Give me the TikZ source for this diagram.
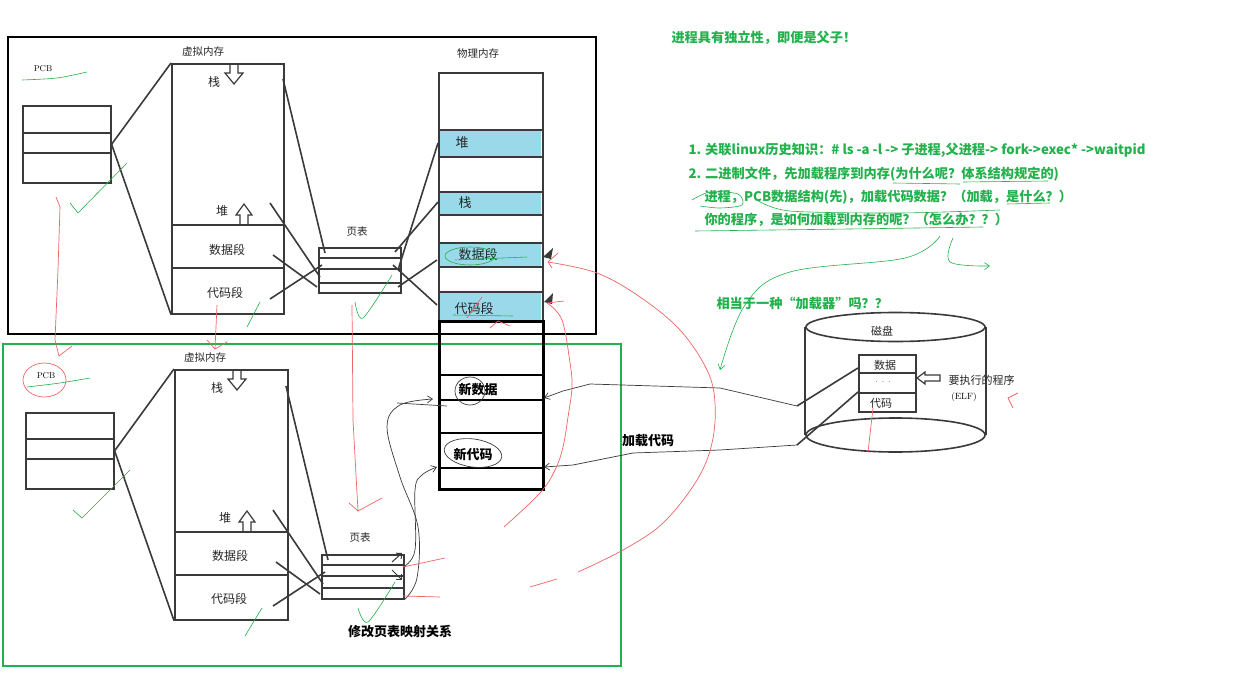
\documentclass[tikz,border=0pt]{standalone}
\usepackage{fontspec}
\usepackage{tikz}
\usetikzlibrary{shapes.geometric,arrows.meta}
\newfontfamily\cjk{Noto Sans CJK SC}
\definecolor{ink}{RGB}{58,58,58}
\definecolor{note}{RGB}{34,177,76}
\definecolor{redink}{RGB}{240,100,100}
\definecolor{cell}{RGB}{153,217,234}

\begin{document}
\begin{tikzpicture}[x=1pt,y=-1pt,
  sketch/.style={draw=ink,line width=1.6pt},
  box/.style={sketch,inner sep=0pt,anchor=north west},
  lbl/.style={font=\cjk\fontsize{12}{14}\selectfont,text=black!85},
  small/.style={font=\cjk\fontsize{10.5}{12}\selectfont,text=black!85},
  tag/.style={font=\rmfamily\fontsize{8.5}{10}\selectfont},
  say/.style={font=\cjk\bfseries\fontsize{13.2}{15}\selectfont,text=note,anchor=west},
  bold/.style={font=\cjk\bfseries\fontsize{13}{15}\selectfont},
  hand/.style={draw=note,line width=0.6pt},
  redhand/.style={draw=redink,line width=0.7pt},
  thin/.style={draw=ink,line width=0.7pt},
  tip/.style={-{Straight Barb[length=5pt,width=7pt]}}]
\useasboundingbox (0,0) rectangle (1242,674);
\fill[white] (0,0) rectangle (1242,674);
\draw[black,line width=2.6pt] (8,37) rectangle (596,334);
\draw[note,line width=2pt] (3,344) rectangle (621,666);
\node[box,minimum width=88pt,minimum height=77pt] (pcbA) at (22,105) {};
\draw[sketch] (22,133) -- (110,133);
\draw[sketch] (22,153) -- (110,153);
\node[tag] (pcbAL) at (43,69) {PCB};
\node[box,minimum width=112pt,minimum height=250pt] (vmA) at (171,63) {};
\draw[sketch] (171,225) -- (283,225);
\draw[sketch] (171,268) -- (283,268);
\node[small] (vmAL) at (203,52) {虚拟内存};
\node[lbl] (stkA) at (214,82) {栈};
\node[lbl] (heapA) at (222,211) {堆};
\node[lbl] (dataA) at (227,250) {数据段};
\node[lbl] (codeA) at (225,293) {代码段};
\draw[sketch,line width=1.2pt,shift={(234,64)}] (-4,0) -- (4,0) -- (4,9) -- (9,9) -- (0,20) -- (-9,9) -- (-4,9) -- cycle;
\draw[sketch,line width=1.2pt,shift={(244,225)}] (-4,0) -- (4,0) -- (4,-10) -- (8,-10) -- (0,-21) -- (-8,-10) -- (-4,-10) -- cycle;
\node[box,minimum width=82pt,minimum height=45pt] (ptA) at (318,247) {};
\draw[sketch] (318,258) -- (400,258);
\draw[sketch] (318,269) -- (400,269);
\draw[sketch] (318,283) -- (400,283);
\node[small] (ptAL) at (357,232) {页表};
\fill[cell] (439,130) rectangle (541,157);
\fill[cell] (439,192) rectangle (541,215);
\fill[cell] (439,243) rectangle (541,267);
\fill[cell] (439,292) rectangle (541,320);
\node[box,minimum width=104pt,minimum height=248pt] (physA) at (438,72) {};
\foreach \y in {130,157,192,215,243,267,292}
  \draw[sketch] (438,\y) -- (542,\y);
\node[small] (physAL) at (478,54) {物理内存};
\node[lbl,font=\cjk\fontsize{13}{15}\selectfont] (heapP) at (462,143) {堆};
\node[lbl,font=\cjk\fontsize{13}{15}\selectfont] (stkP) at (465,203) {栈};
\node[lbl,font=\cjk\fontsize{13}{15}\selectfont] (dataP) at (478,255) {数据段};
\node[lbl,font=\cjk\fontsize{13}{15}\selectfont] (codeP) at (474,309) {代码段};
\node[draw=black,line width=2.6pt,inner sep=0pt,anchor=north west,minimum width=104pt,minimum height=168pt] (physB) at (438,320) {};
\foreach \y in {375,400,433,468}
  \draw[black,line width=2.6pt] (438,\y) -- (542,\y);
\node[bold] (newData) at (478,390) {新数据};
\node[bold] (newCode) at (473,455) {新代码};
\coordinate (vsA1) at (283,79);
\coordinate (vsA2) at (270,203);
\coordinate (vsA3) at (273,255);
\coordinate (vsA4) at (270,299);
\coordinate (psA1) at (325,253);
\coordinate (psA2) at (320,277);
\coordinate (psA3) at (317,287);
\coordinate (psA4) at (322,265);
\coordinate (poA1) at (395,252);
\coordinate (poA2) at (398,270);
\coordinate (poA3) at (393,265);
\coordinate (poA4) at (398,287);
\coordinate (pmStk) at (438,202);
\coordinate (pmHeap) at (438,143);
\coordinate (pmCode) at (437,305);
\coordinate (pmData) at (437,260);
\draw[sketch] (pcbA.east) -- (vmA.north west);
\draw[sketch] (pcbA.east) -- (vmA.south west);
\draw[sketch] (vsA1) -- (psA1);
\draw[sketch] (vsA2) -- (psA2);
\draw[sketch] (vsA3) -- (psA3);
\draw[sketch] (vsA4) -- (psA4);
\draw[sketch] (poA1) -- (pmStk);
\draw[sketch] (poA2) -- (pmHeap);
\draw[sketch] (poA3) -- (pmCode);
\draw[sketch] (poA4) -- (pmData);
\fill[ink] (543,257) -- (553,248) -- (551,259) -- cycle;
\fill[ink] (544,302) -- (553,293) -- (552,304) -- cycle;
\node[box,minimum width=88pt,minimum height=76pt] (pcbB) at (25,412) {};
\draw[sketch] (25,439) -- (113,439);
\draw[sketch] (25,459) -- (113,459);
\node[tag] (pcbBL) at (46,376) {PCB};
\node[box,minimum width=113pt,minimum height=250pt] (vmB) at (174,369) {};
\draw[sketch] (174,532) -- (287,532);
\draw[sketch] (174,575) -- (287,575);
\node[small] (vmBL) at (205,358) {虚拟内存};
\node[lbl] (stkB) at (217,388) {栈};
\node[lbl] (heapB) at (225,518) {堆};
\node[lbl] (dataB) at (230,556) {数据段};
\node[lbl] (codeB) at (229,599) {代码段};
\draw[sketch,line width=1.2pt,shift={(237,370)}] (-4,0) -- (4,0) -- (4,9) -- (9,9) -- (0,20) -- (-9,9) -- (-4,9) -- cycle;
\draw[sketch,line width=1.2pt,shift={(247,532)}] (-4,0) -- (4,0) -- (4,-10) -- (8,-10) -- (0,-21) -- (-8,-10) -- (-4,-10) -- cycle;
\node[box,minimum width=82pt,minimum height=44pt] (ptB) at (321,554) {};
\draw[sketch] (321,565) -- (403,565);
\draw[sketch] (321,576) -- (403,576);
\draw[sketch] (321,588) -- (403,588);
\node[small] (ptBL) at (360,538) {页表};
\coordinate (vsB1) at (286,386);
\coordinate (vsB2) at (273,510);
\coordinate (vsB3) at (276,562);
\coordinate (vsB4) at (273,606);
\coordinate (psB1) at (328,560);
\coordinate (psB2) at (323,584);
\coordinate (psB3) at (320,594);
\coordinate (psB4) at (325,572);
\draw[sketch] (pcbB.east) -- (vmB.north west);
\draw[sketch] (pcbB.east) -- (vmB.south west);
\draw[sketch] (vsB1) -- (psB1);
\draw[sketch] (vsB2) -- (psB2);
\draw[sketch] (vsB3) -- (psB3);
\draw[sketch] (vsB4) -- (psB4);
\draw[sketch,line width=1pt,-{Straight Barb[length=4pt]}] (392,562) -- (402,553);
\draw[sketch,line width=1pt,-{Straight Barb[length=4pt]}] (392,570) -- (402,580);
\node[bold] (remap) at (400,632) {修改页表映射关系};
\node[bold] (loadCode) at (648,441) {加载代码};
\node[ellipse,sketch,minimum width=179pt,minimum height=34pt,inner sep=0pt] (dbot) at (895.5,435) {};
\node[ellipse,sketch,fill=white,minimum width=179pt,minimum height=29pt,inner sep=0pt] (dtop) at (895.5,327) {};
\draw[sketch] (dtop.west) -- (dbot.west);
\draw[sketch] (dtop.east) -- (dbot.east);
\node[lbl,font=\cjk\fontsize{11}{13}\selectfont] (diskL) at (882,331) {磁盘};
\node[box,minimum width=57pt,minimum height=57pt] (elf) at (858,354) {};
\draw[sketch] (858,373) -- (915,373);
\draw[sketch] (858,393) -- (915,393);
\node[lbl,font=\cjk\fontsize{11}{13}\selectfont] (elfData) at (885,365) {数据};
\node[tag] (elfDots) at (883,382) {. . .};
\node[lbl,font=\cjk\fontsize{11}{13}\selectfont] (elfCode) at (881,403) {代码};
\draw[sketch,line width=1.2pt,shift={(917,378)}] (0,0) -- (8,-6) -- (8,-3) -- (23,-3) -- (23,3) -- (8,3) -- (8,6) -- cycle;
\node[small,font=\cjk\fontsize{11}{13}\selectfont,anchor=west] (runL) at (945,380) {要执行的程序};
\node[tag,font=\rmfamily\fontsize{9}{11}\selectfont] (elfL) at (964,397) {(ELF)};
\coordinate (elfD) at (858,368);
\coordinate (elfC) at (858,392);
\coordinate (dkD) at (797,406);
\coordinate (dkC) at (797,445);
\coordinate (inD) at (544,398);
\coordinate (inC) at (544,467);
\draw[sketch] (elfD) -- (dkD);
\draw[sketch] (elfC) -- (dkC);
\draw[thin,tip] (dkD) -- (720,388) -- (590,384) -- (563,391) -- (inD);
\draw[thin,tip] (dkC) -- (720,450) -- (633,453) -- (573,465) -- (inC);
\draw[thin,tip] plot[smooth,tension=0.6] coordinates {(ptB.south east) (417,578) (418,527) (400,477) (387,427) (400,405) (433,399)};
\draw[thin,tip] plot[smooth,tension=0.6] coordinates {(403,567) (415,550) (415,490) (422,475) (437,467)};
\draw[thin] (397,403) -- (447,406);
\draw[thin] (470,391) ellipse (15 and 14);
\draw[thin,rotate around={-8:(473,453)}] (473,453) ellipse (29 and 14);
\node[say] (t0) at (668,38) {进程具有独立性，即便是父子！};
\node[say] (t1) at (685,150) {1. 关联linux历史知识：\# ls -a -l -> 子进程,父进程-> fork->exec* ->waitpid};
\node[say] (t2) at (685,174) {2. 二进制文件，先加载程序到内存(为什么呢？体系结构规定的)};
\node[say] (t3) at (701,197) {进程，PCB数据结构(先)，加载代码数据？（加载，是什么？）};
\node[say] (t4) at (701,220) {你的程序，是如何加载到内存的呢？（怎么办？？）};
\node[say] (t5) at (713,303) {相当于一种“加载器”吗？？};
\draw[hand] (893,183) -- (960,184);
\draw[hand] (963,182) -- (1048,181);
\draw[hand] (1007,204) -- (1050,203);
\draw[hand] plot[smooth] coordinates {(692,200) (710,192) (738,194) (742,205) (720,208) (700,206)};
\draw[hand] plot[smooth] coordinates {(757,200) (790,211) (900,213) (1000,210)};
\draw[hand] (695,231) -- (850,229) -- (983,227);
\draw[hand,tip] plot[smooth,tension=0.6] coordinates {(940,236) (905,258) (790,272) (745,305) (720,370)};
\draw[hand,tip] plot[smooth,tension=0.6] coordinates {(953,238) (950,262) (990,266)};
\draw[hand] plot[smooth] coordinates {(22,80) (57,78) (87,72)};
\draw[hand] (70,203) -- (78,213) -- (127,163);
\draw[hand] (247,327) -- (260,302);
\draw[hand] plot[smooth] coordinates {(355,302) (363,318) (392,275)};
\draw[hand] (470,256) ellipse (25 and 9);
\draw[hand] (455,260) -- (527,257);
\draw[hand] (453,315) -- (513,316);
\draw[hand] plot[smooth] coordinates {(27,387) (60,383) (90,378)};
\draw[hand] (73,510) -- (82,518) -- (130,470);
\draw[hand] (245,636) -- (262,608);
\draw[hand] plot[smooth] coordinates {(358,608) (368,622) (395,582)};
\draw[redhand] (56,197) -- (60,207) -- (58,270) -- (55,340) -- (59,356) -- (72,346);
\draw[redhand] (217,305) -- (215,349) -- (227,342);
\draw[redhand] (207,340) -- (215,349);
\draw[redhand] (352,305) -- (353,420) -- (358,511) -- (382,498);
\draw[redhand] (349,503) -- (358,511);
\draw[redhand] (44.5,380) ellipse (21.5 and 17);
\draw[redhand] (873,408) -- (868,452);
\draw[redhand] (1018,393) -- (1008,398) -- (1013,408);
\draw[redhand] plot[smooth,tension=0.6] coordinates {(548,262) (597,273) (640,297) (680,330) (707,370) (715,403) (712,443) (697,480) (663,523) (623,550) (578,572)};
\draw[redhand] (548,262) -- (558,253);
\draw[redhand] (548,262) -- (552,268);
\draw[redhand] (530,587) -- (557,579);
\draw[redhand] plot[smooth,tension=0.6] coordinates {(547,303) (562,320) (570,363) (572,387) (568,417) (563,447) (555,470) (540,493) (504,527)};
\draw[redhand] (547,303) -- (564,301);
\draw[redhand] (403,567) -- (445,558);
\draw[redhand] (403,596) -- (440,597);
\draw[redhand] (467,318) -- (482,297);
\draw[redhand] (490,328) -- (498,321) -- (510,326);
\end{tikzpicture}
\end{document}
